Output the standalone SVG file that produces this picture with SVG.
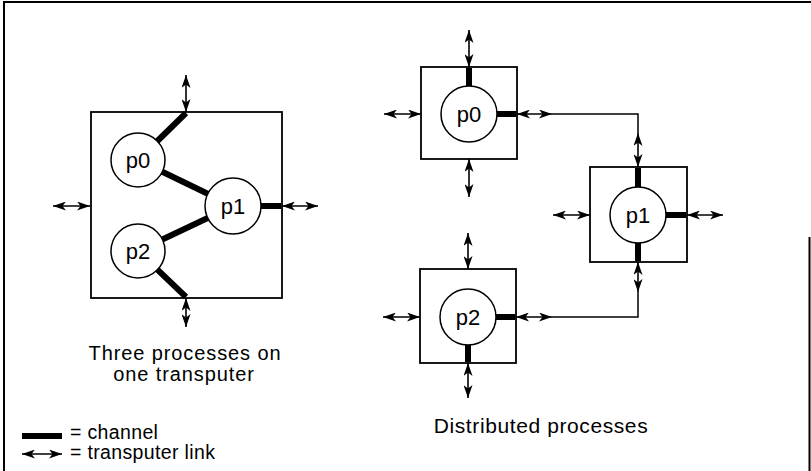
<svg xmlns="http://www.w3.org/2000/svg" width="811" height="471" viewBox="0 0 811 471">
<style>
.frame{stroke:#000;stroke-width:2;fill:none}
.box{fill:#fff;stroke:#000;stroke-width:1.8}
.proc{fill:#fff;stroke:#000;stroke-width:1.5}
.chan{stroke:#000;stroke-width:6;fill:none}
.link{stroke:#000;stroke-width:1.6;fill:none;marker-start:url(#ah);marker-end:url(#ah)}
.wire{stroke:#000;stroke-width:1.5;fill:none}
text{font-family:"Liberation Sans",Arial,sans-serif;fill:#000}
.lbl{font-size:22px;text-anchor:middle}
.cap{font-size:21px;text-anchor:middle;letter-spacing:0.6px}
.cap2{font-size:20px;text-anchor:middle;letter-spacing:0.9px}
.leg{font-size:19.5px;letter-spacing:0.35px}
</style>
<defs>
<marker id="ah" viewBox="0 0 13 9" refX="13" refY="4.5" markerWidth="13" markerHeight="9" markerUnits="userSpaceOnUse" orient="auto-start-reverse">
<path d="M0,0 L13,4.5 L0,9 L3.5,4.5 Z" fill="#000"/>
</marker>
</defs>
<rect width="811" height="471" fill="#fff"/>
<g id="frame">
<line class="frame" x1="3" y1="2" x2="811" y2="2"/>
<line class="frame" x1="4" y1="2" x2="4" y2="471"/>
<line class="frame" x1="809.5" y1="237" x2="809.5" y2="471"/>
</g>
<g id="transputer-left"><rect class="box" x="91" y="112" width="191" height="186"/></g>
<g id="transputer-p0"><rect class="box" x="421" y="67" width="96" height="92"/></g>
<g id="transputer-p1"><rect class="box" x="590" y="167" width="97" height="95"/></g>
<g id="transputer-p2"><rect class="box" x="420" y="269" width="96" height="94"/></g>
<g id="connectors">
<line class="chan" x1="138" y1="160" x2="186" y2="113"/>
<line class="chan" x1="138" y1="160" x2="233" y2="206"/>
<line class="chan" x1="233" y1="206" x2="138" y2="251"/>
<line class="chan" x1="138" y1="251" x2="186" y2="297"/>
<line class="chan" x1="233" y1="206" x2="281" y2="206"/>
<line class="link" x1="186" y1="112" x2="186" y2="75"/>
<line class="link" x1="186" y1="298" x2="186" y2="327"/>
<line class="link" x1="90" y1="206" x2="53" y2="206"/>
<line class="link" x1="282" y1="206" x2="318" y2="206"/>
<line class="chan" x1="469" y1="114" x2="469" y2="68"/>
<line class="chan" x1="469" y1="114" x2="516" y2="114"/>
<line class="chan" x1="638" y1="215" x2="638" y2="168"/>
<line class="chan" x1="638" y1="215" x2="686" y2="215"/>
<line class="chan" x1="638" y1="215" x2="638" y2="261"/>
<line class="chan" x1="468" y1="317" x2="515" y2="317"/>
<line class="chan" x1="468" y1="317" x2="468" y2="362"/>
<line class="link" x1="469" y1="67" x2="469" y2="30"/>
<line class="link" x1="421" y1="114" x2="384" y2="114"/>
<line class="link" x1="469" y1="159" x2="469" y2="197"/>
<line class="link" x1="517" y1="114" x2="552" y2="114"/>
<polyline class="wire" points="552,114 638,114 638,133"/>
<line class="link" x1="638" y1="133" x2="638" y2="167"/>
<line class="link" x1="590" y1="215" x2="553" y2="215"/>
<line class="link" x1="687" y1="215" x2="723" y2="215"/>
<line class="link" x1="638" y1="262" x2="638" y2="292"/>
<polyline class="wire" points="638,292 638,317 552,317"/>
<line class="link" x1="516" y1="317" x2="552" y2="317"/>
<line class="link" x1="468" y1="269" x2="468" y2="233"/>
<line class="link" x1="420" y1="317" x2="383" y2="317"/>
<line class="link" x1="468" y1="363" x2="468" y2="398"/>
</g>
<g id="left-p0"><circle class="proc" cx="138" cy="160" r="27"/><text class="lbl" x="138" y="168">p0</text></g>
<g id="left-p1"><circle class="proc" cx="233" cy="206" r="28"/><text class="lbl" x="233" y="214">p1</text></g>
<g id="left-p2"><circle class="proc" cx="138" cy="251" r="27"/><text class="lbl" x="138" y="259">p2</text></g>
<g id="right-p0"><circle class="proc" cx="469" cy="114" r="28"/><text class="lbl" x="469" y="122">p0</text></g>
<g id="right-p1"><circle class="proc" cx="638" cy="215" r="28"/><text class="lbl" x="638" y="223">p1</text></g>
<g id="right-p2"><circle class="proc" cx="468" cy="317" r="28"/><text class="lbl" x="468" y="325">p2</text></g>
<g id="captions">
<text class="cap2" x="185" y="360">Three processes on</text>
<text class="cap2" x="184" y="381">one transputer</text>
<text class="cap" x="541" y="433">Distributed processes</text>
</g>
<g id="legend">
<line class="chan" x1="22" y1="436" x2="62" y2="436"/>
<text class="leg" x="70" y="439">= channel</text>
<line class="link" x1="22" y1="454" x2="62" y2="454"/>
<text class="leg" x="70" y="459">= transputer link</text>
</g>
</svg>
